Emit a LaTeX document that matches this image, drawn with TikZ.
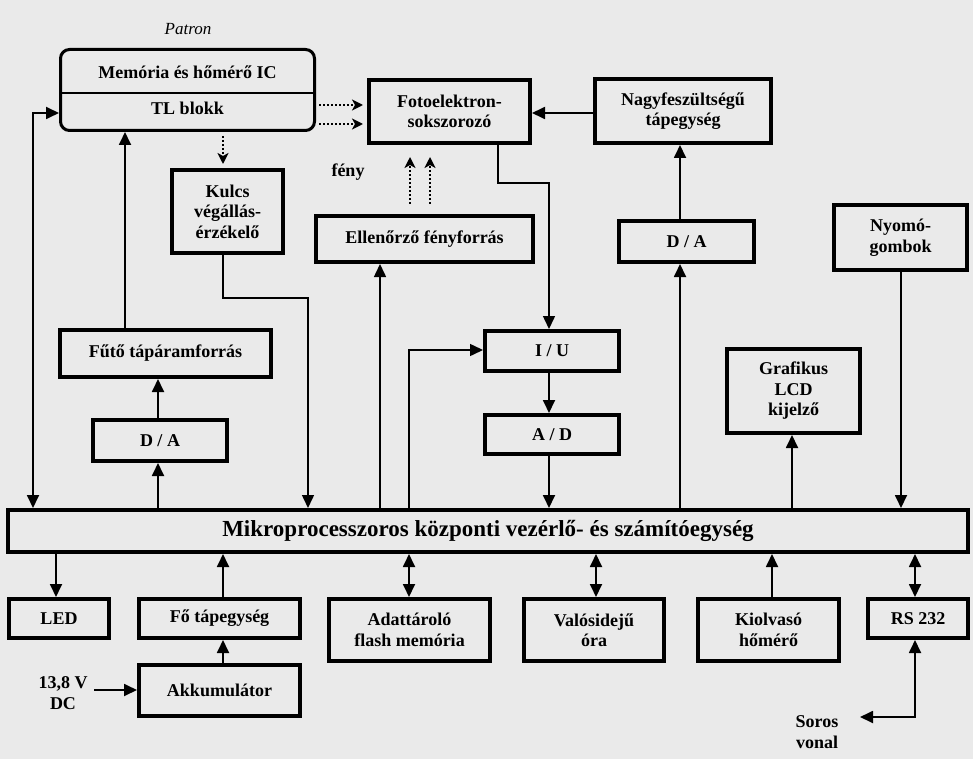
\documentclass[tikz,border=0pt]{standalone}
\usepackage{fontspec}
\setmainfont{Liberation Serif}
\usetikzlibrary{arrows.meta, positioning}
\definecolor{sheetbg}{HTML}{EAEAEA}

\begin{document}
\begin{tikzpicture}[x=1pt, y=-1pt, font=\bfseries\fontsize{18}{20.5}\selectfont,
  blk/.style={draw, line width=4pt, fill=sheetbg, align=center, inner sep=1pt},
  conn/.style={line width=1.8pt, -{Triangle[length=13pt, width=12pt]}},
  both/.style={line width=1.8pt, {Triangle[length=13pt, width=12pt]}-{Triangle[length=13pt, width=12pt]}},
  dots/.style={line width=2pt, dotted, -{Stealth[length=11pt, width=11pt, inset=3pt]}}]
\fill[sheetbg] (0,0) rectangle (973,759);

% cartridge
\node[blk, line width=3pt, rounded corners=9pt, minimum width=254pt, minimum height=81pt] (patron) at (187.5,90) {};
\node (mem) at (187.5,72) {Memória és hőmérő IC};
\node (tl) at (187.5,108) {TL blokk};
\draw[line width=1.5pt] (patron.west |- 0,93) -- (patron.east |- 0,93);
\node[font=\normalfont\itshape\fontsize{17}{20}\selectfont] (patronlbl) at (188,29) {Patron};

% upper blocks
\node[blk, minimum width=161pt, minimum height=63pt] (foto) at (449.5,111.5) {Fotoelektron-\\sokszorozó};
\node[blk, minimum width=176pt, minimum height=64pt] (nagy) at (683,111) {Nagyfeszültségű\\tápegység};
\node[blk, minimum width=111pt, minimum height=83pt] (kulcs) at (227.5,211.5) {Kulcs\\végállás-\\érzékelő};
\node[blk, minimum width=217pt, minimum height=46pt] (ellen) at (424.5,239) {Ellenőrző fényforrás};
\node[blk, minimum width=135pt, minimum height=41pt] (dar) at (686.5,241.5) {D / A};
\node[blk, minimum width=133pt, minimum height=65pt] (nyomo) at (900.5,237.5) {Nyomó-\\gombok};
\node[blk, minimum width=211pt, minimum height=47pt] (futo) at (165.5,353.5) {Fűtő tápáramforrás};
\node[blk, minimum width=134pt, minimum height=41pt] (dal) at (160,440.5) {D / A};
\node[blk, minimum width=134pt, minimum height=40pt] (iu) at (552,351) {I / U};
\node[blk, minimum width=134pt, minimum height=39pt] (ad) at (552,434.5) {A / D};
\node[blk, minimum width=133pt, minimum height=84pt] (lcd) at (793.5,391) {Grafikus\\LCD\\kijelző};
\node (feny) at (348,172) {fény};

% central unit
\node[blk, minimum width=960pt, minimum height=42pt, font=\bfseries\fontsize{23}{25}\selectfont] (main) at (488,531)
  {Mikroprocesszoros központi vezérlő- és számítóegység};

% lower blocks
\node[blk, minimum width=100pt, minimum height=39pt] (led) at (59,618.5) {LED};
\node[blk, minimum width=161pt, minimum height=39pt] (fotap) at (219.5,618.5) {Fő tápegység};
\node[blk, minimum width=161pt, minimum height=51pt] (akku) at (219.5,690.5) {Akkumulátor};
\node[blk, minimum width=161pt, minimum height=62pt] (flash) at (409.5,630) {Adattároló\\flash memória};
\node[blk, minimum width=140pt, minimum height=62pt] (ora) at (594,630) {Valósidejű\\óra};
\node[blk, minimum width=141pt, minimum height=62pt] (kiolv) at (768.5,630) {Kiolvasó\\hőmérő};
\node[blk, minimum width=100pt, minimum height=39pt] (rs) at (918,618.5) {RS 232};
\node[align=center] (dc) at (63,693) {13,8 V\\DC};
\node[align=center] (soros) at (817,732) {Soros\\vonal};
\coordinate (sorosend) at (860,717);

% connections above the central unit
\draw[both] (main.north -| 33,0) |- (patron.west |- 0,113);
\draw[conn] (futo.north -| 125,0) -- (patron.south -| 125,0);
\draw[dots, shorten <=4pt, shorten >=4pt] (patron.south -| 223,0) -- (kulcs.north -| 223,0);
\draw[dots, shorten <=3pt, shorten >=4pt] (patron.east |- 0,105) -- (foto.west |- 0,105);
\draw[dots, shorten <=3pt, shorten >=4pt] (patron.east |- 0,124) -- (foto.west |- 0,124);
\draw[conn] (nagy.west |- 0,113) -- (foto.east |- 0,113);
\draw[dots, shorten <=10pt, shorten >=12pt] (ellen.north -| 410,0) -- (foto.south -| 410,0);
\draw[dots, shorten <=10pt, shorten >=12pt] (ellen.north -| 430,0) -- (foto.south -| 430,0);
\draw[conn, line width=1.5pt] (foto.south -| 498,0) -- (498,183) -| (iu.north -| 549,0);
\draw[conn] (iu.south -| 549,0) -- (ad.north -| 549,0);
\draw[conn] (ad.south -| 549,0) -- (main.north -| 549,0);
\draw[conn, line width=1.5pt] (main.north -| 409,0) |- (iu.west |- 0,350);
\draw[conn, line width=1.5pt] (main.north -| 380,0) -- (ellen.south -| 380,0);
\draw[conn, line width=1.5pt] (kulcs.south -| 223,0) |- (308,298) -- (main.north -| 308,0);
\draw[conn] (main.north -| 158,0) -- (dal.south -| 158,0);
\draw[conn] (dal.north -| 158,0) -- (futo.south -| 158,0);
\draw[conn] (main.north -| 680,0) -- (dar.south -| 680,0);
\draw[conn] (dar.north -| 680,0) -- (nagy.south -| 680,0);
\draw[conn] (nyomo.south -| 901,0) -- (main.north -| 901,0);
\draw[conn] (main.north -| 792,0) -- (lcd.south -| 792,0);

% connections below the central unit
\draw[conn] (main.south -| 56,0) -- (led.north -| 56,0);
\draw[conn] (fotap.north -| 223,0) -- (main.south -| 223,0);
\draw[conn] (akku.north -| 223,0) -- (fotap.south -| 223,0);
\draw[conn, shorten <=3pt] (dc.east |- 0,690) -- (akku.west |- 0,690);
\draw[both] (main.south -| 409,0) -- (flash.north -| 409,0);
\draw[both] (main.south -| 596,0) -- (ora.north -| 596,0);
\draw[conn] (kiolv.north -| 772,0) -- (main.south -| 772,0);
\draw[both] (main.south -| 915,0) -- (rs.north -| 915,0);
\draw[both] (rs.south -| 915,0) |- (sorosend);
\end{tikzpicture}
\end{document}
